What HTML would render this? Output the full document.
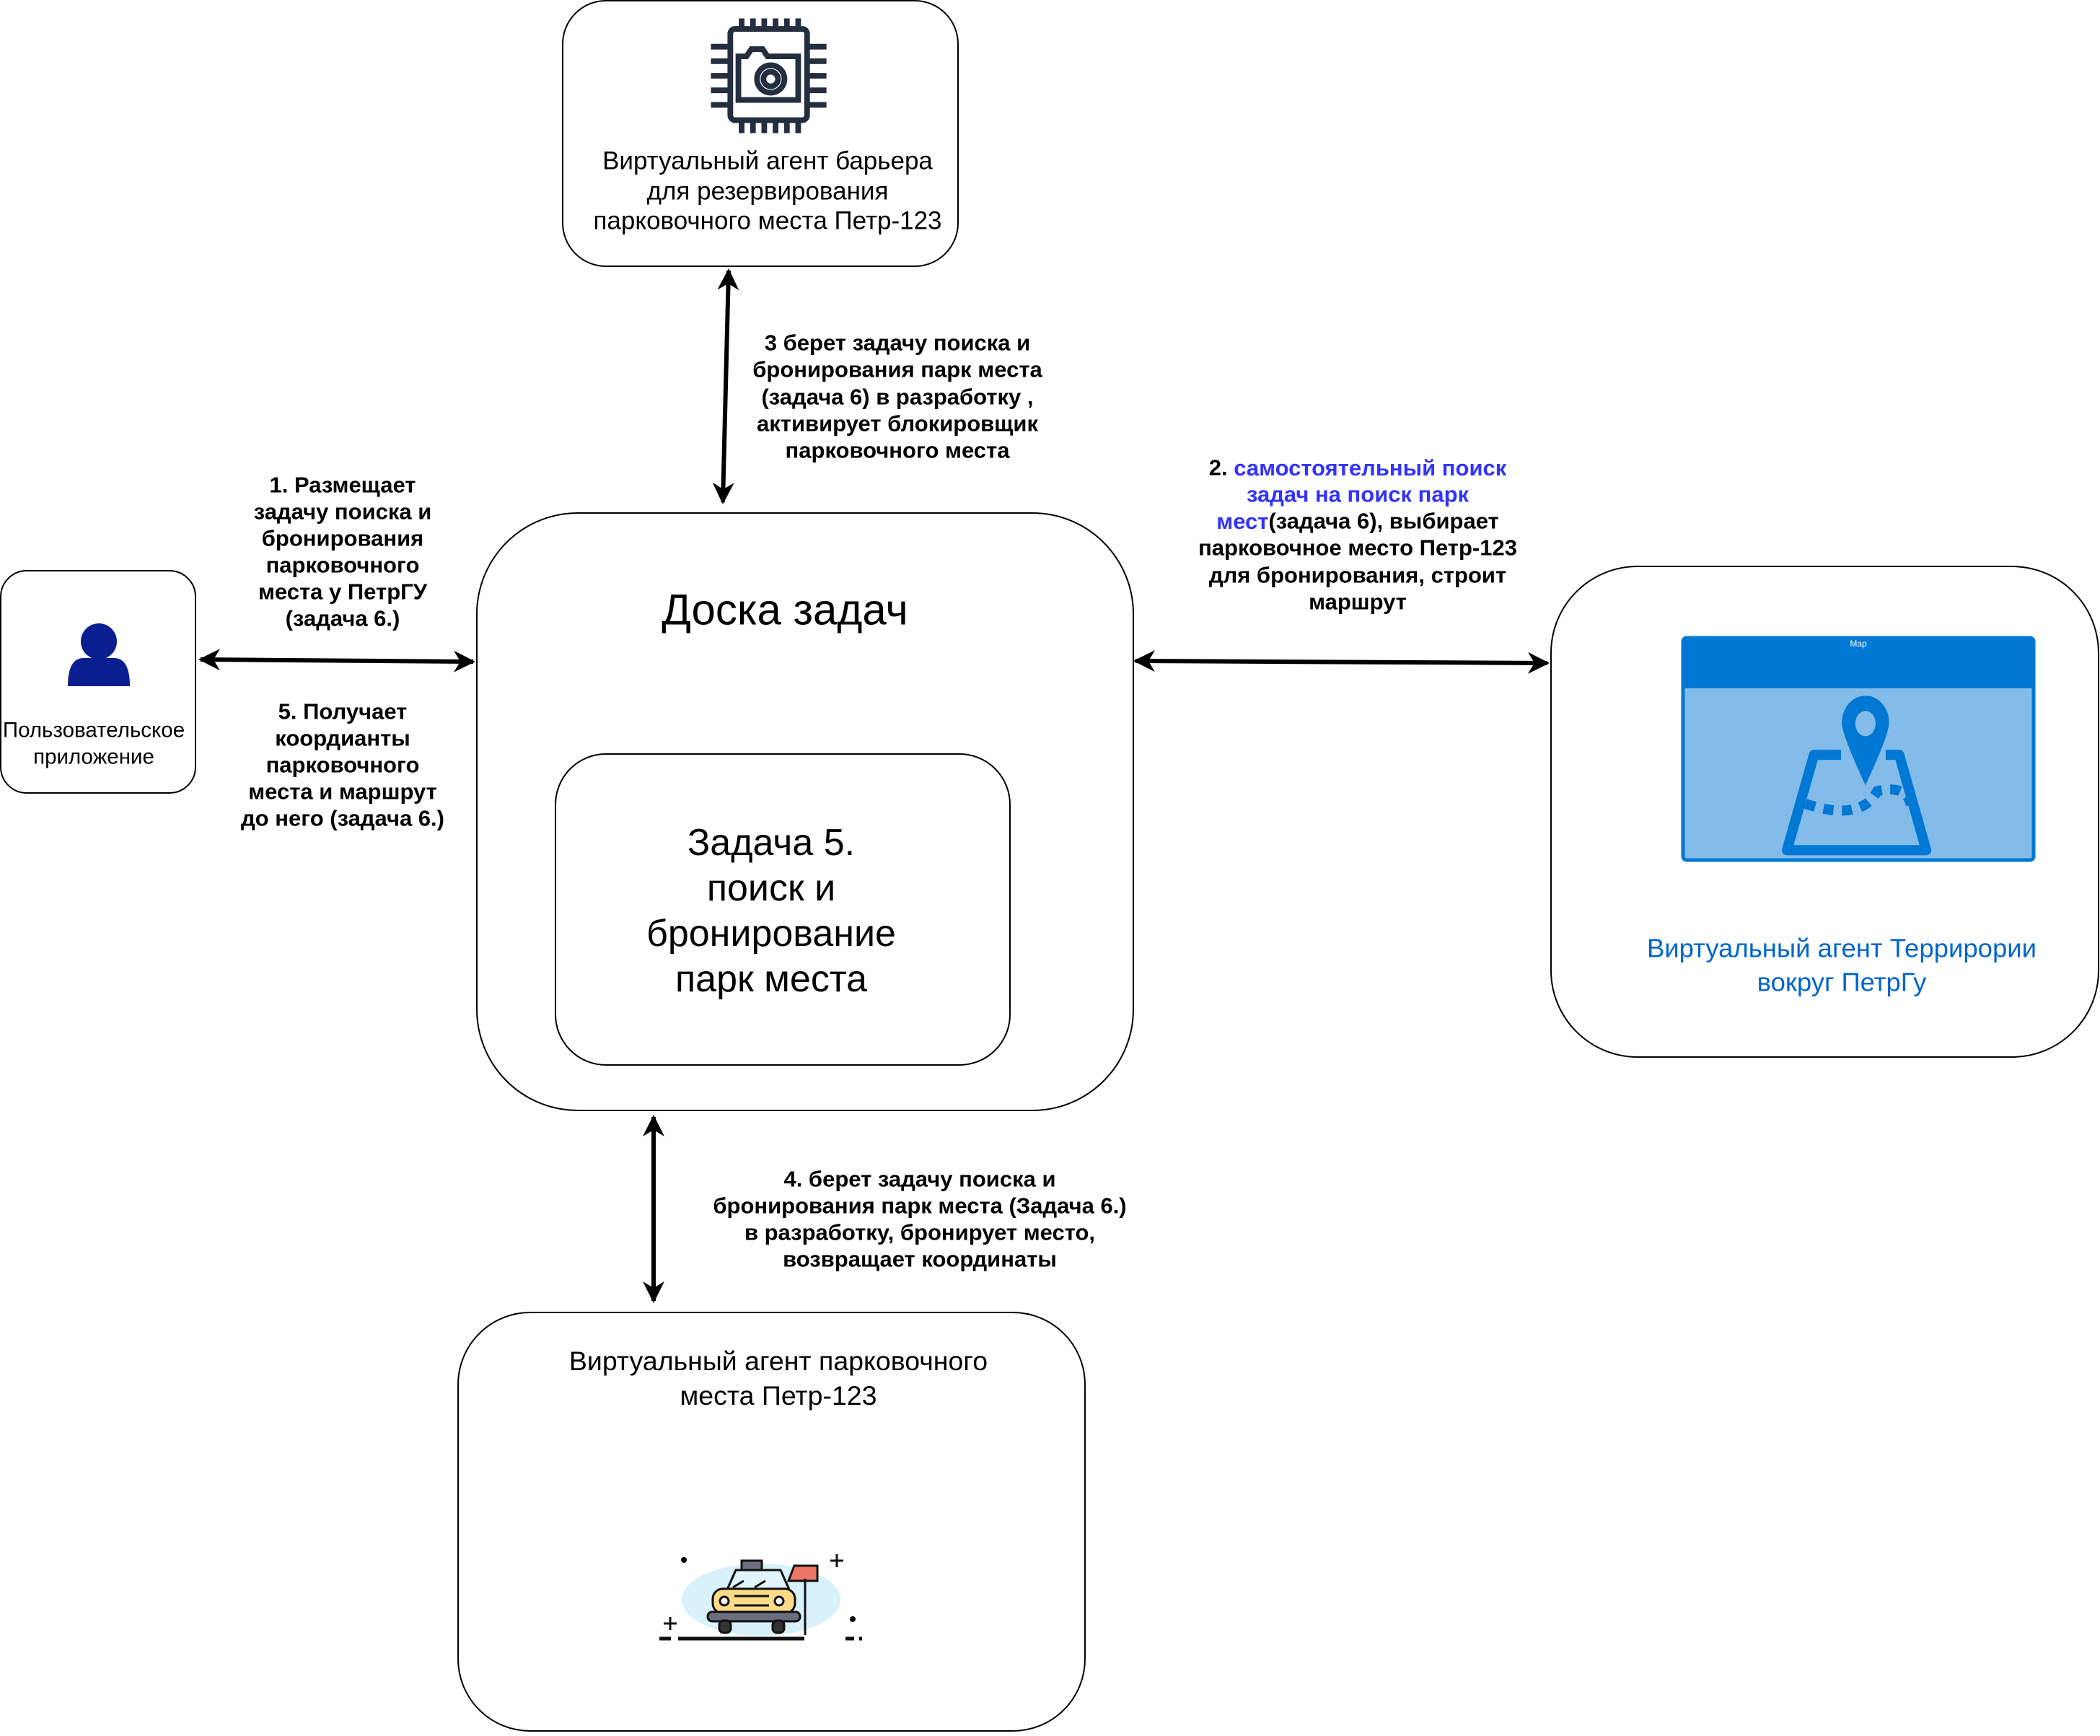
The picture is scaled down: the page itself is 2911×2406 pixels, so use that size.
<!DOCTYPE html>
<html><head><meta charset="utf-8"><style>
html,body{margin:0;padding:0;background:#fff}
svg text{font-family:"Liberation Sans","Noto Sans CJK SC",sans-serif}
</style></head><body>
<svg width="2911" height="2401" viewBox="0 0 2911 2401" xmlns="http://www.w3.org/2000/svg">
<defs>
<marker id="ah" viewBox="0 0 10 10" refX="9" refY="5" markerWidth="5" markerHeight="5" orient="auto-start-reverse" markerUnits="strokeWidth"><path d="M0,0 L10,5 L0,10 L3,5 z" fill="#000"/></marker>
</defs>
<g fill="#fff" stroke="#000" stroke-width="2">
<rect x="780" y="1" width="548" height="368" rx="60"/>
<rect x="661" y="711" width="910" height="828" rx="140"/>
<rect x="770" y="1045" width="630" height="431" rx="70"/>
<rect x="1" y="791" width="270" height="308" rx="36"/>
<rect x="2150" y="785" width="759" height="680" rx="120"/>
<rect x="635" y="1819" width="869" height="580" rx="100"/>
</g>
<!-- chip camera -->
<g fill="none" stroke="#232f3e" stroke-width="7" transform="translate(1065 105) scale(1.12) translate(-1047 -106)">
<rect x="1000" y="48" width="95" height="113" rx="6"/>
<path d="M1010 82 h10 l6 -9 h14 l6 9 h38 v54 h-74 z"/>
<circle cx="1050" cy="110" r="17"/><circle cx="1050" cy="110" r="9"/>
<path d="M1014 35v13M1028 35v13M1042 35v13M1056 35v13M1070 35v13M1084 35v13M1014 161v16M1028 161v16M1042 161v16M1056 161v16M1070 161v16M1084 161v16M976 70h24M976 88h24M976 106h24M976 124h24M976 142h24M1095 70h24M1095 88h24M1095 106h24M1095 124h24M1095 142h24"/>
</g>
<!-- person -->
<g fill="#0a1f8f"><circle cx="137" cy="889" r="25"/><path d="M94 951 Q94 912 116 912 L158 912 Q180 912 180 951 Z"/></g>
<!-- map -->
<rect x="2333" y="884" width="486" height="308" rx="5" fill="#83bbe9" stroke="#0078d4" stroke-width="5"/>
<rect x="2333" y="884" width="486" height="70" fill="#0078d4"/>
<text x="2576" y="892" font-size="12" fill="#fff" text-anchor="middle" dominant-baseline="central">Map</text>
<g transform="translate(2573 1073) scale(1.17) translate(-2555 -1073)">
<g fill="none" stroke="#0078d4" stroke-width="12" stroke-linejoin="round">
<path d="M2537 1050 L2505 1050 L2473 1163 L2638 1163 L2606 1050 L2590 1050"/>
<path d="M2495 1108 Q2560 1130 2580 1093 Q2615 1085 2620 1110" stroke-dasharray="12 10"/>
</g>
<path d="M2566 980 a28 32 0 0 1 28 32 q0 14 -28 74 q-28 -60 -28 -74 a28 32 0 0 1 28 -32z" fill="#0078d4"/>
<ellipse cx="2566" cy="1013" rx="12" ry="15" fill="#83bbe9"/>
</g>
<!-- taxi -->
<ellipse cx="1055" cy="2217" rx="110" ry="50" fill="#d8f1fb"/>
<g stroke="#111" stroke-width="3">
<rect x="1028" y="2163" width="28" height="13" fill="#6b6e7d"/>
<path d="M1008 2203 L1020 2176 L1082 2176 L1094 2203 Z" fill="#e0f4fb"/>
<rect x="988" y="2202" width="114" height="34" rx="14" fill="#fddb87"/>
<rect x="981" y="2234" width="128" height="13" rx="6" fill="#6b6e7d"/>
<rect x="997" y="2246" width="16" height="17" rx="6" fill="#333"/><rect x="1071" y="2246" width="16" height="17" rx="6" fill="#333"/>
<circle cx="1004" cy="2219" r="6" fill="#fff"/><circle cx="1080" cy="2219" r="6" fill="#fff"/>
<path d="M1018 2212h48M1018 2225h48M1016 2200l15-9M1046 2200l15-9M1116 2188v78M1093 2191l8-21h32v21z" fill="#ef7665"/>
<path d="M914 2271h16M940 2271h175M1172 2271h12M1191 2271h4" stroke-width="5"/>
<path d="M1160 2154v18M1151 2163h18M929 2241v18M920 2250h18" />
</g>
<circle cx="948" cy="2162" r="4"/><circle cx="1182" cy="2244" r="4"/>
<!-- arrows -->
<g stroke="#000" stroke-width="6" fill="none" marker-start="url(#ah)" marker-end="url(#ah)">
<line x1="1010" y1="375" x2="1002" y2="696"/>
<line x1="278" y1="914" x2="656" y2="917"/>
<line x1="1574" y1="916" x2="2145" y2="919"/>
<line x1="906" y1="1548" x2="906" y2="1803"/>
</g>
<!-- texts -->
<g font-size="35" text-anchor="middle" dominant-baseline="central" fill="#000">
<text x="1064" y="223">Виртуальный агент барьера</text>
<text x="1064" y="265">для резервирования</text>
<text x="1064" y="306">парковочного места Петр-123</text>
</g>
<g font-size="37.5" text-anchor="middle" dominant-baseline="central" fill="#000">
<text x="1079" y="1886">Виртуальный агент парковочного</text>
<text x="1079" y="1934">места Петр-123</text>
</g>
<g font-size="36.5" text-anchor="middle" dominant-baseline="central" fill="#0066cc">
<text x="2553" y="1314">Виртуальный агент Террирории</text>
<text x="2553" y="1361">вокруг ПетрГу</text>
</g>
<text x="1088" y="845" font-size="60" text-anchor="middle" dominant-baseline="central">Доска задач</text>
<g font-size="52" text-anchor="middle" dominant-baseline="central">
<text x="1069" y="1168">Задача 5.</text><text x="1069" y="1231">поиск и</text><text x="1069" y="1294">бронирование</text><text x="1069" y="1357">парк места</text>
</g>
<g font-size="29.5" text-anchor="middle" dominant-baseline="central">
<text x="130" y="1012">Пользовательское</text><text x="130" y="1049">приложение</text>
</g>
<g font-size="31" font-weight="bold" text-anchor="middle" dominant-baseline="central">
<text x="1244" y="475">3 берет задачу  поиска и</text>
<text x="1244" y="512">бронирования парк места</text>
<text x="1244" y="550">(задача 6) в разработку ,</text>
<text x="1244" y="587">активирует блокировщик</text>
<text x="1244" y="624">парковочного места</text>
<text x="475" y="672">1.  Размещает</text>
<text x="475" y="709">задачу поиска и</text>
<text x="475" y="746">бронирования</text>
<text x="475" y="783">парковочного</text>
<text x="475" y="820">места у ПетрГУ</text>
<text x="475" y="857">(задача 6.)</text>
<text x="475" y="986">5. Получает</text>
<text x="475" y="1023">коордианты</text>
<text x="475" y="1060">парковочного</text>
<text x="475" y="1097">места и маршрут</text>
<text x="475" y="1134">до него (задача 6.)</text>
<text x="1882" y="648">2. <tspan fill="#3333ff">самостоятельный поиск</tspan></text>
<text x="1882" y="685" fill="#3333ff">задач на поиск парк</text>
<text x="1882" y="722"><tspan fill="#3333ff">мест</tspan>(задача 6), выбирает</text>
<text x="1882" y="759">парковочное место Петр-123</text>
<text x="1882" y="797">для бронирования, строит</text>
<text x="1882" y="834">маршрут</text>
<text x="1275" y="1634">4. берет задачу поиска и</text>
<text x="1275" y="1671">бронирования парк места (Задача 6.)</text>
<text x="1275" y="1708">в разработку, бронирует место,</text>
<text x="1275" y="1745">возвращает координаты</text>
</g>
</svg>
</body></html>
